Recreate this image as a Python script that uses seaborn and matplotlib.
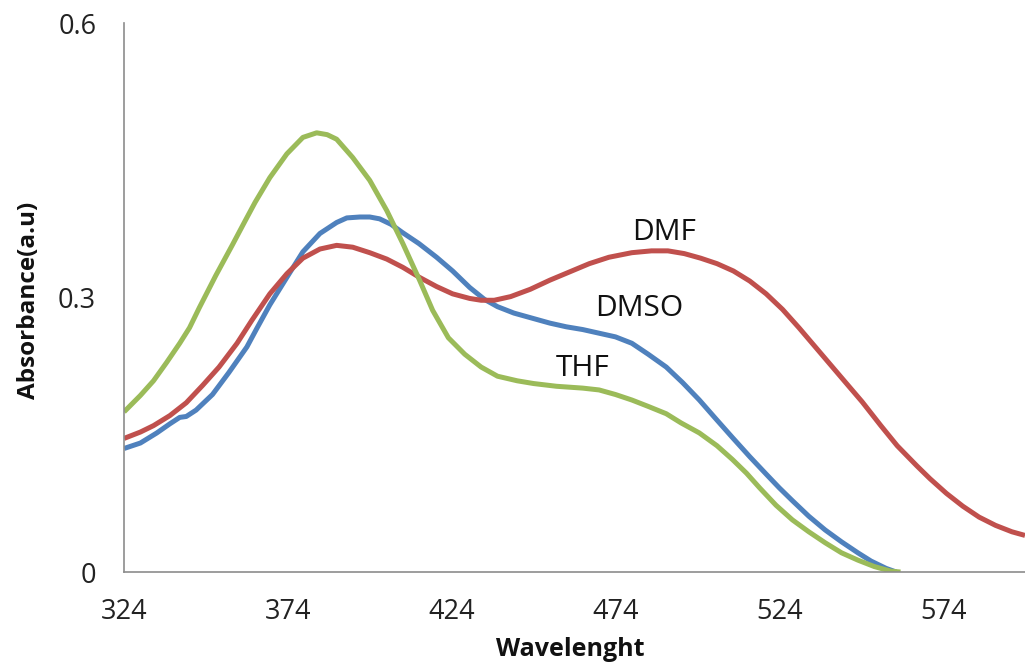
import matplotlib
matplotlib.use("Agg")
import matplotlib.pyplot as plt
import seaborn as sns
import pandas as pd

# ---- data ----
thf_x = [324, 329, 333, 337, 341, 344, 347, 352, 357, 361, 364, 368.5, 373.7, 378.6, 382.8,
         386, 388.9, 393.8, 399, 404.2, 409.1, 414.2, 418.2, 423, 428, 433, 438, 444, 449,
         456, 464, 469, 474, 479, 484, 489.5, 494, 499.6, 505, 509.7, 514, 518, 523, 528,
         533, 538, 543, 548, 553, 558, 561]
thf_y = [0.175, 0.193, 0.209, 0.229, 0.250, 0.267, 0.289, 0.324, 0.357, 0.384, 0.404, 0.431,
         0.457, 0.475, 0.480, 0.478, 0.473, 0.453, 0.428, 0.395, 0.359, 0.319, 0.286, 0.256,
         0.238, 0.224, 0.214, 0.209, 0.206, 0.203, 0.201, 0.199, 0.194, 0.188, 0.181, 0.173,
         0.163, 0.152, 0.138, 0.123, 0.108, 0.092, 0.073, 0.057, 0.044, 0.032, 0.021, 0.013,
         0.006, 0.001, 0.0]

dmso_x = [324, 329, 334, 338, 341, 343, 346, 351, 356, 361.5, 364.5, 368.5, 373.7, 378.6,
          383.8, 388.9, 392, 396, 399, 402, 405.5, 409, 414, 419.4, 424.3, 429.5, 434, 438,
          443, 449, 454, 459, 464, 469, 474, 479, 484, 489.5, 494.5, 499.6, 504.5, 509.7,
          515, 520, 524, 528, 533, 538, 543, 548, 552, 556.6, 559.7]
dmso_y = [0.135, 0.141, 0.152, 0.162, 0.169, 0.170, 0.177, 0.194, 0.218, 0.246, 0.266, 0.292,
          0.322, 0.350, 0.370, 0.382, 0.387, 0.388, 0.388, 0.386, 0.380, 0.371, 0.359, 0.344,
          0.329, 0.311, 0.298, 0.290, 0.283, 0.277, 0.272, 0.268, 0.265, 0.261, 0.257, 0.250,
          0.238, 0.224, 0.207, 0.188, 0.168, 0.147, 0.126, 0.107, 0.092, 0.078, 0.061, 0.046,
          0.033, 0.021, 0.012, 0.004, 0.0]

dmf_x = [324, 329, 333, 338, 343, 348, 353, 358.5, 363, 368.5, 373.7, 378.6, 383.8, 388.9,
         393.8, 399, 404.2, 409.1, 414.2, 419.4, 424.3, 429.5, 433, 437, 442, 448, 454, 460,
         466, 472, 479, 485, 490, 495, 500, 505, 510, 515, 520, 525, 530, 535, 540, 545,
         549.3, 555, 560, 566, 570, 575, 580, 585, 590, 595, 599]
dmf_y = [0.146, 0.153, 0.160, 0.171, 0.185, 0.204, 0.224, 0.250, 0.275, 0.304, 0.326, 0.343,
         0.353, 0.357, 0.355, 0.349, 0.342, 0.333, 0.322, 0.312, 0.304, 0.299, 0.297, 0.297,
         0.301, 0.309, 0.319, 0.328, 0.337, 0.344, 0.349, 0.351, 0.351, 0.348, 0.343, 0.337,
         0.329, 0.318, 0.304, 0.287, 0.267, 0.246, 0.225, 0.204, 0.186, 0.160, 0.138, 0.116,
         0.102, 0.086, 0.072, 0.060, 0.051, 0.044, 0.040]

x_ticks = [324, 374, 424, 474, 524, 574]
y_ticks = [0, 0.3, 0.6]
y_tick_labels = ["0", "0.3", "0.6"]

labels = ["DMF", "DMSO", "THF"]
label_pos = [(488.9, 0.371), (481.3, 0.288), (463.9, 0.222)]

# ---- style ----
sns.set_style("white")
plt.rcParams['font.family'] = ['Open Sans', 'DejaVu Sans']

GREY = "#8c8c8c"
fig = plt.figure(figsize=(10.25, 6.65), dpi=100)
ax = fig.add_axes([0.121, 0.1398, 0.879, 0.8256])

series = [("DMSO", dmso_x, dmso_y, "#4F81BD"),
          ("DMF", dmf_x, dmf_y, "#C0504D"),
          ("THF", thf_x, thf_y, "#9BBB59")]
for name, xs, ys, col in series:
    df = pd.DataFrame({"Wavelength": xs, "Absorbance": ys})
    sns.lineplot(data=df, x="Wavelength", y="Absorbance", ax=ax, color=col,
                 linewidth=3.6, solid_joinstyle="round", solid_capstyle="butt")

for t, (x, y) in zip(labels, label_pos):
    ax.text(x, y, t, fontsize=21.5, ha="center", va="center", color="#111111")

ax.set_xlim(324, 599)
ax.set_ylim(0, 0.6)
ax.set_xticks(x_ticks)
ax.set_xticklabels([str(v) for v in x_ticks])
ax.set_yticks(y_ticks)
ax.set_yticklabels(y_tick_labels)

for s in ["top", "right"]:
    ax.spines[s].set_visible(False)
for s in ["left", "bottom"]:
    ax.spines[s].set_color(GREY)
    ax.spines[s].set_linewidth(1.2)

ax.tick_params(axis="both", direction="in", length=8, width=1.2, color=GREY,
               labelsize=19.5, labelcolor="#222222")
ax.tick_params(axis="x", pad=18.5)
ax.tick_params(axis="y", pad=20)

ax.set_xlabel("Wavelenght", fontsize=18, fontweight="bold", color="#111111")
ax.set_ylabel("Absorbance(a.u)", fontsize=17.5, fontweight="bold", color="#111111")
ax.xaxis.set_label_coords(0.495, -0.142)
ax.xaxis.label.set_va("center")
ax.yaxis.set_label_coords(-0.106, 0.495)
ax.yaxis.label.set_va("center")

fig.savefig("out.png", dpi=100)
